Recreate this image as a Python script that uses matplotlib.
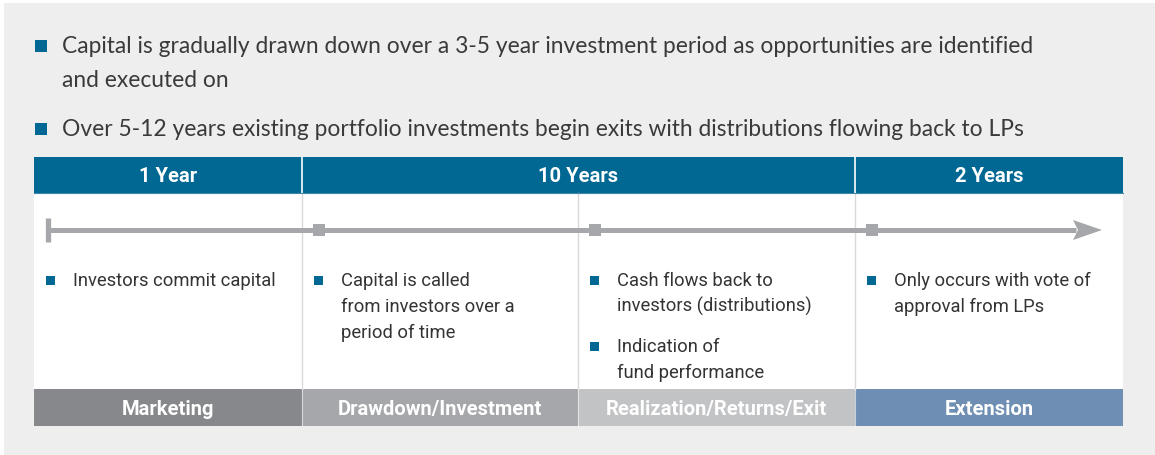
import matplotlib
matplotlib.use("Agg")
import matplotlib.pyplot as plt
from matplotlib.patches import Rectangle, Polygon
from matplotlib import font_manager as fm

# ---------------- data ----------------
intro_bullets = [
    ["Capital is gradually drawn down over a 3-5 year investment period as opportunities are identified",
     "and executed on"],
    ["Over 5-12 years existing portfolio investments begin exits with distributions flowing back to LPs"],
]
header_labels = ["1 Year", "10 Years", "2 Years"]
phase_labels = ["Marketing", "Drawdown/Investment", "Realization/Returns/Exit", "Extension"]
phase_notes = [
    [["Investors commit capital"]],
    [["Capital is called", "from investors over a", "period of time"]],
    [["Cash flows back to", "investors (distributions)"], ["Indication of", "fund performance"]],
    [["Only occurs with vote of", "approval from LPs"]],
]

# ---------------- layout / style ----------------
W, H = 1155, 455
col_edges = [34, 302, 578, 855, 1123]
header_spans = [(0, 1), (1, 3), (3, 4)]
header_top, header_bot = 157, 193
body_bot = 389
strip_bot = 426
timeline_y = 230
BLUE = "#006892"
phase_colors = ["#87888c", "#a6a7ab", "#c2c3c5", "#6e8fb3"]
GREY_LINE = "#a6a7ab"
TEXT = "#333333"


def pick(names):
    for n in names:
        try:
            fm.findfont(fm.FontProperties(family=n), fallback_to_default=False)
            return n
        except Exception:
            pass
    return "DejaVu Sans"

narrow = pick(["Liberation Sans Narrow", "Roboto", "Liberation Sans"])
light = pick(["Lato", "Roboto", "Open Sans"])

fig = plt.figure(figsize=(W / 100, H / 100), dpi=100)
ax = fig.add_axes([0, 0, 1, 1])
ax.set_xlim(0, W)
ax.set_ylim(H, 0)
ax.axis("off")

# panel background
ax.add_patch(Rectangle((4, 3), W - 4, H - 3, facecolor="#eeeeee", edgecolor="none"))

# intro bullets
intro_base = [53, 136]
for lines, yb in zip(intro_bullets, intro_base):
    ax.add_patch(Rectangle((35, yb - 13), 12, 12, facecolor=BLUE, edgecolor="none"))
    for i, ln in enumerate(lines):
        ax.text(62, yb + i * 34, ln, fontsize=16.4, family=light, color="#3a3a3a",
                va="baseline", ha="left")

# white body
ax.add_patch(Rectangle((col_edges[0], header_bot), col_edges[-1] - col_edges[0],
                       body_bot - header_bot, facecolor="white", edgecolor="none"))
# body dividers
for x in col_edges[1:-1]:
    ax.plot([x, x], [header_bot, body_bot], color="#d9d9d9", lw=1.0)

# header
for (a, b), lab in zip(header_spans, header_labels):
    x0, x1 = col_edges[a], col_edges[b]
    ax.add_patch(Rectangle((x0, header_top), x1 - x0, header_bot - header_top,
                           facecolor=BLUE, edgecolor="none"))
    ax.text((x0 + x1) / 2, 182, lab, fontsize=14.5, family=narrow, weight="bold",
            color="white", ha="center", va="baseline")
for a, b in header_spans[1:]:
    ax.plot([col_edges[a], col_edges[a]], [header_top, header_bot], color="white", lw=1.2)
ax.plot([col_edges[0], col_edges[-1]], [header_bot - 0.5, header_bot - 0.5], color="#3f88ad", lw=0.8)

# timeline
ax.plot([48, 1076], [timeline_y, timeline_y], color=GREY_LINE, lw=3.6, solid_capstyle="butt")
ax.plot([48, 48], [218, 242], color=GREY_LINE, lw=3.8, solid_capstyle="butt")
ax.add_patch(Polygon([[1073, timeline_y - 10], [1102, timeline_y], [1073, timeline_y + 10],
                      [1078, timeline_y]], closed=True, facecolor=GREY_LINE, edgecolor="none"))
ax.plot([x + 17 for x in col_edges[1:4]], [timeline_y] * 3, ls="none", marker="s",
        markersize=8, color=GREY_LINE, markeredgewidth=0)

# notes
note_start = 286
for ci, groups in enumerate(phase_notes):
    bx = col_edges[ci] + 12
    tx = col_edges[ci] + 39
    y = note_start
    for g in groups:
        ax.add_patch(Rectangle((bx, y - 10), 9, 9, facecolor=BLUE, edgecolor="none"))
        for ln in g:
            ax.text(tx, y, ln, fontsize=13.2, family=narrow, color=TEXT,
                    ha="left", va="baseline")
            y += 26
        y += 14

# phase strip
for i, (lab, c) in enumerate(zip(phase_labels, phase_colors)):
    x0, x1 = col_edges[i], col_edges[i + 1]
    ax.add_patch(Rectangle((x0, body_bot), x1 - x0, strip_bot - body_bot,
                           facecolor=c, edgecolor="none"))
    ax.text((x0 + x1) / 2, 415, lab, fontsize=14.5, family=narrow, weight="bold",
            color="white", ha="center", va="baseline")
for x in col_edges[1:-1]:
    ax.plot([x, x], [body_bot, strip_bot], color="white", lw=0.8, alpha=0.6)

fig.savefig("out.png", dpi=100)
